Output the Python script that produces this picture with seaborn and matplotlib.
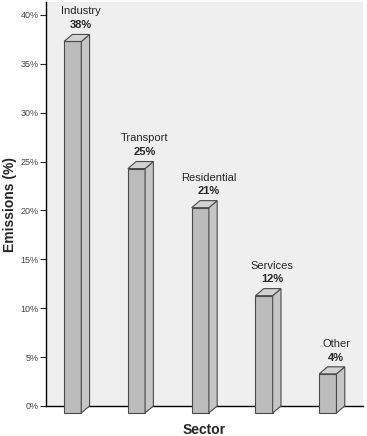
import matplotlib
matplotlib.use("Agg")
import matplotlib.pyplot as plt
import seaborn as sns
from matplotlib.patches import Polygon

# data
sectors = ["Industry", "Transport", "Residential", "Services", "Other"]
emissions = [38, 25, 21, 12, 4]
ytick_vals = [0, 5, 10, 15, 20, 25, 30, 35, 40]

sns.set_style("white")
plt.rcParams['font.family'] = ['Liberation Sans', 'DejaVu Sans']

fig = plt.figure(figsize=(3.67, 4.36), dpi=100)
ax = fig.add_axes([0.125, 0.069, 0.864, 0.926])
ax.set_facecolor("#efefef")

edge = "#4a4a4a"
sns.barplot(x=sectors, y=emissions, color="#bcbcbc", width=0.27,
            edgecolor=edge, linewidth=0.8, saturation=1, ax=ax, zorder=3)

# fake 3D: shift the front face down-left, add side and top faces
dx, dy = 0.13, 0.72
for p in ax.patches:
    x0, w, h = p.get_x(), p.get_width(), p.get_height()
    fx = x0 - dx
    p.set_x(fx)
    p.set_y(-dy)
    p.set_clip_on(False)
    side = Polygon([(fx + w, -dy), (fx + w, h - dy), (x0 + w, h), (x0 + w, 0)],
                   closed=True, facecolor="#c6c6c6", edgecolor=edge,
                   linewidth=0.8, clip_on=False, zorder=3)
    top = Polygon([(fx, h - dy), (fx + w, h - dy), (x0 + w, h), (x0, h)],
                  closed=True, facecolor="#d2d2d2", edgecolor=edge,
                  linewidth=0.8, clip_on=False, zorder=3)
    ax.add_patch(side)
    ax.add_patch(top)

for i, (name, v) in enumerate(zip(sectors, emissions)):
    ax.annotate(f"{v}%", (i, v), xytext=(0, 3), textcoords="offset points",
                ha="center", va="bottom", fontsize=8, fontweight="bold")
    ax.annotate(name, (i, v), xytext=(0, 13), textcoords="offset points",
                ha="center", va="bottom", fontsize=8)

ax.set_xlim(-0.55, 4.42)
ax.set_ylim(0, 41.3)
ax.set_yticks(ytick_vals)
ax.set_yticklabels([f"{t}%" for t in ytick_vals], fontsize=6.5, color="#444444")
ax.set_xticks([])
ax.tick_params(axis="y", direction="out", length=4, width=0.8, left=True, pad=1)
for s in ["top", "right"]:
    ax.spines[s].set_visible(False)
for s in ["left", "bottom"]:
    ax.spines[s].set_color("black")
    ax.spines[s].set_linewidth(1.0)

ax.set_xlabel("Sector", fontsize=10, fontweight="bold", labelpad=12)
ax.set_ylabel("Emissions (%)", fontsize=10, fontweight="bold", labelpad=3)

fig.savefig("out.png", dpi=100)
